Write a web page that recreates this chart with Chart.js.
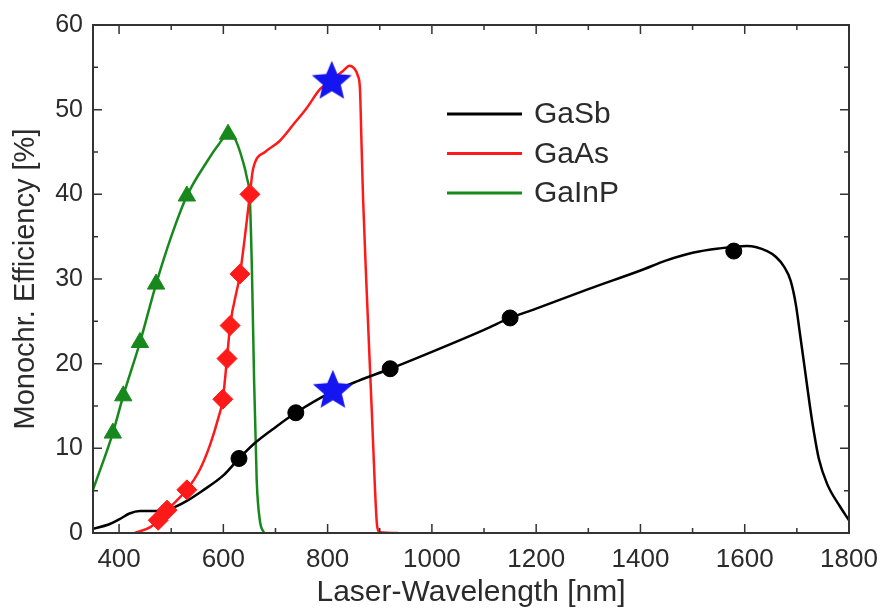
<!DOCTYPE html>
<html>
<head>
<meta charset="utf-8">
<script src="https://cdn.jsdelivr.net/npm/chart.js@4/dist/chart.umd.min.js"></script>
<style>
    html, body { margin: 0; padding: 0; background: #fff; }
    #wrap { width: 884px; height: 613px; }
</style>
</head>
<body>
<div id="wrap"><canvas id="effChart"></canvas></div>
<script>
// curves (wavelength nm / efficiency %)
const gasbNm = [350, 380, 400, 420, 440, 460, 480, 500, 530, 560, 600, 630, 660, 700, 739, 800, 860, 920, 1000, 1100, 1150, 1200, 1300, 1400, 1450, 1500, 1550, 1604, 1643, 1660, 1675, 1688, 1698, 1706, 1715, 1725, 1733, 1742, 1758, 1783, 1800];
const gasbEff = [0.5, 1.0, 1.6, 2.3, 2.6, 2.6, 2.6, 2.9, 3.8, 5.0, 6.8, 8.8, 10.6, 12.5, 14.2, 16.4, 18.0, 19.4, 21.4, 24.0, 25.4, 26.5, 28.8, 31.0, 32.2, 33.1, 33.6, 33.9, 33.3, 32.6, 31.5, 29.8, 27.0, 23.5, 19.5, 15.0, 11.8, 8.8, 5.8, 3.1, 1.5];

const gaasNm = [430, 460, 475, 492, 510, 530, 555, 575, 590, 599, 607, 613, 632, 651, 657, 680, 708, 735, 760, 785, 808, 830, 842, 852, 858, 862, 865, 868, 875, 885, 891, 895, 900, 935];
const gaasEff = [0, 0.7, 1.5, 2.7, 3.8, 5.1, 7.5, 10.5, 13.5, 15.8, 20.6, 24.5, 30.6, 40.0, 43.0, 45.0, 46.3, 48.3, 50.2, 52.4, 53.5, 54.6, 55.2, 54.8, 54.0, 52.5, 46.0, 39.5, 28.5, 14.0, 5.0, 0.8, 0.1, 0];

const gainpNm = [350, 388, 408, 440, 471, 500, 530, 570, 590, 609, 618, 627, 637, 645, 651, 655, 659, 664, 670, 678];
const gainpEff = [5.1, 11.8, 16.2, 22.5, 29.4, 35.0, 39.8, 44.0, 45.8, 47.1, 47.0, 45.9, 44.0, 42.0, 39.2, 30.5, 18.0, 6.2, 1.5, 0];

// measured points
const gasbMarkNm = [630, 739, 920, 1150, 1579];
const gasbMarkEff = [8.8, 14.2, 19.4, 25.4, 33.3];
const gaasMarkNm = [475, 492, 530, 599, 607, 613, 632, 651];
const gaasMarkEff = [1.5, 2.7, 5.1, 15.8, 20.6, 24.5, 30.6, 40.0];
const gainpMarkNm = [388, 408, 440, 471, 530, 609];
const gainpMarkEff = [11.8, 16.2, 22.5, 29.4, 39.8, 47.1];
const laserNm = [808, 810];
const laserEff = [53.3, 16.8];

// axes
const xTicks = [400, 600, 800, 1000, 1200, 1400, 1600, 1800];
const xMinor = [500, 700, 900, 1100, 1300, 1500, 1700];
const yTicks = [0, 10, 20, 30, 40, 50, 60];
const yMinor = [5, 15, 25, 35, 45, 55];

const seriesNames = ['GaSb', 'GaAs', 'GaInP'];
const seriesColors = ['#000000', '#ff1a1a', '#17891c'];

function pts(xs, ys) {
    return xs.map(function (x, i) { return { x: x, y: ys[i] }; });
}

// filled five point star for the laser points
function makeStar(r, color) {
    const c = document.createElement('canvas');
    c.width = c.height = r * 2 + 2;
    const g = c.getContext('2d');
    g.translate(r + 1, r + 1);
    g.beginPath();
    for (let i = 0; i < 10; i++) {
        const rr = i % 2 === 0 ? r : r * 0.45;
        const a = -Math.PI / 2 + i * Math.PI / 5;
        g.lineTo(rr * Math.cos(a), rr * Math.sin(a));
    }
    g.closePath();
    g.fillStyle = color;
    g.fill();
    return c;
}

const textColor = '#2b2b2b';
const fontFam = '"Liberation Sans", Arial, sans-serif';

const frameTicks = {
    id: 'frameTicks',
    afterDatasetsDraw(chart) {
        const ctx = chart.ctx;
        const a = chart.chartArea;
        const xs = chart.scales.x, ys = chart.scales.y;
        ctx.save();
        ctx.strokeStyle = '#333';
        ctx.lineWidth = 2;
        ctx.strokeRect(a.left, a.top, a.right - a.left, a.bottom - a.top);
        ctx.lineWidth = 1.5;
        ctx.beginPath();
        function xt(v, len) {
            const p = xs.getPixelForValue(v);
            ctx.moveTo(p, a.bottom); ctx.lineTo(p, a.bottom - len);
            ctx.moveTo(p, a.top); ctx.lineTo(p, a.top + len);
        }
        function yt(v, len) {
            const p = ys.getPixelForValue(v);
            ctx.moveTo(a.left, p); ctx.lineTo(a.left + len, p);
            ctx.moveTo(a.right, p); ctx.lineTo(a.right - len, p);
        }
        xTicks.forEach(function (v) { xt(v, 9); });
        xMinor.forEach(function (v) { xt(v, 5); });
        yTicks.forEach(function (v) { yt(v, 9); });
        yMinor.forEach(function (v) { yt(v, 5); });
        ctx.stroke();
        ctx.restore();
    }
};

const insideLegend = {
    id: 'insideLegend',
    afterDraw(chart) {
        const ctx = chart.ctx;
        ctx.save();
        ctx.font = '30px ' + fontFam;
        ctx.textBaseline = 'middle';
        seriesNames.forEach(function (name, i) {
            const y = 114 + i * 39.5;
            ctx.strokeStyle = seriesColors[i];
            ctx.lineWidth = 3;
            ctx.beginPath();
            ctx.moveTo(447, y);
            ctx.lineTo(522, y);
            ctx.stroke();
            ctx.fillStyle = textColor;
            ctx.fillText(name, 534, y + 1);
        });
        ctx.restore();
    }
};

function curve(i, xs, ys) {
    return {
        label: seriesNames[i],
        data: pts(xs, ys),
        borderColor: seriesColors[i],
        borderWidth: 2.5,
        pointRadius: 0,
        cubicInterpolationMode: 'monotone',
        order: 3
    };
}

function marks(i, xs, ys, style, r) {
    return {
        label: seriesNames[i] + ' points',
        data: pts(xs, ys),
        showLine: false,
        pointStyle: style,
        pointRadius: r,
        pointBackgroundColor: seriesColors[i],
        pointBorderColor: seriesColors[i],
        pointBorderWidth: 1,
        order: 2
    };
}

new Chart(document.getElementById('effChart'), {
    type: 'line',
    data: {
        datasets: [
            curve(0, gasbNm, gasbEff),
            curve(1, gaasNm, gaasEff),
            curve(2, gainpNm, gainpEff),
            marks(0, gasbMarkNm, gasbMarkEff, 'circle', 8),
            marks(1, gaasMarkNm, gaasMarkEff, 'rectRot', 10),
            marks(2, gainpMarkNm, gainpMarkEff, 'triangle', 10),
            {
                label: 'laser',
                data: pts(laserNm, laserEff),
                showLine: false,
                pointStyle: makeStar(21, '#1515f2'),
                order: 1
            }
        ]
    },
    options: {
        animation: false,
        responsive: true,
        maintainAspectRatio: false,
        devicePixelRatio: 1,
        layout: { padding: { top: 23, right: 35, left: 0, bottom: 0 } },
        plugins: {
            legend: { display: false },
            tooltip: { enabled: false }
        },
        scales: {
            x: {
                type: 'linear',
                min: 350,
                max: 1800,
                afterBuildTicks: function (s) { s.ticks = xTicks.map(function (v) { return { value: v }; }); },
                afterFit: function (s) {
                    s.height = 80;
                    s.paddingLeft = 0;
                    s.paddingRight = 0;
                },
                grid: { display: false, drawTicks: false },
                border: { display: false },
                ticks: {
                    color: textColor,
                    padding: 11,
                    maxRotation: 0,
                    callback: function (v) { return String(v); },
                    font: { family: fontFam, size: 26 }
                },
                title: {
                    display: true,
                    text: 'Laser-Wavelength [nm]',
                    color: textColor,
                    padding: { top: 0, bottom: 5 },
                    font: { family: fontFam, size: 30, lineHeight: 1 }
                }
            },
            y: {
                min: 0,
                max: 60,
                afterBuildTicks: function (s) { s.ticks = yTicks.map(function (v) { return { value: v }; }); },
                afterFit: function (s) { s.width = 93; },
                grid: { display: false, drawTicks: false },
                border: { display: false },
                ticks: {
                    color: textColor,
                    padding: 10,
                    font: { family: fontFam, size: 25 }
                },
                title: {
                    display: true,
                    text: 'Monochr. Efficiency [%]',
                    color: textColor,
                    padding: { top: 11, bottom: 0 },
                    font: { family: fontFam, size: 29, lineHeight: 1 }
                }
            }
        }
    },
    plugins: [frameTicks, insideLegend]
});
</script>
</body>
</html>
